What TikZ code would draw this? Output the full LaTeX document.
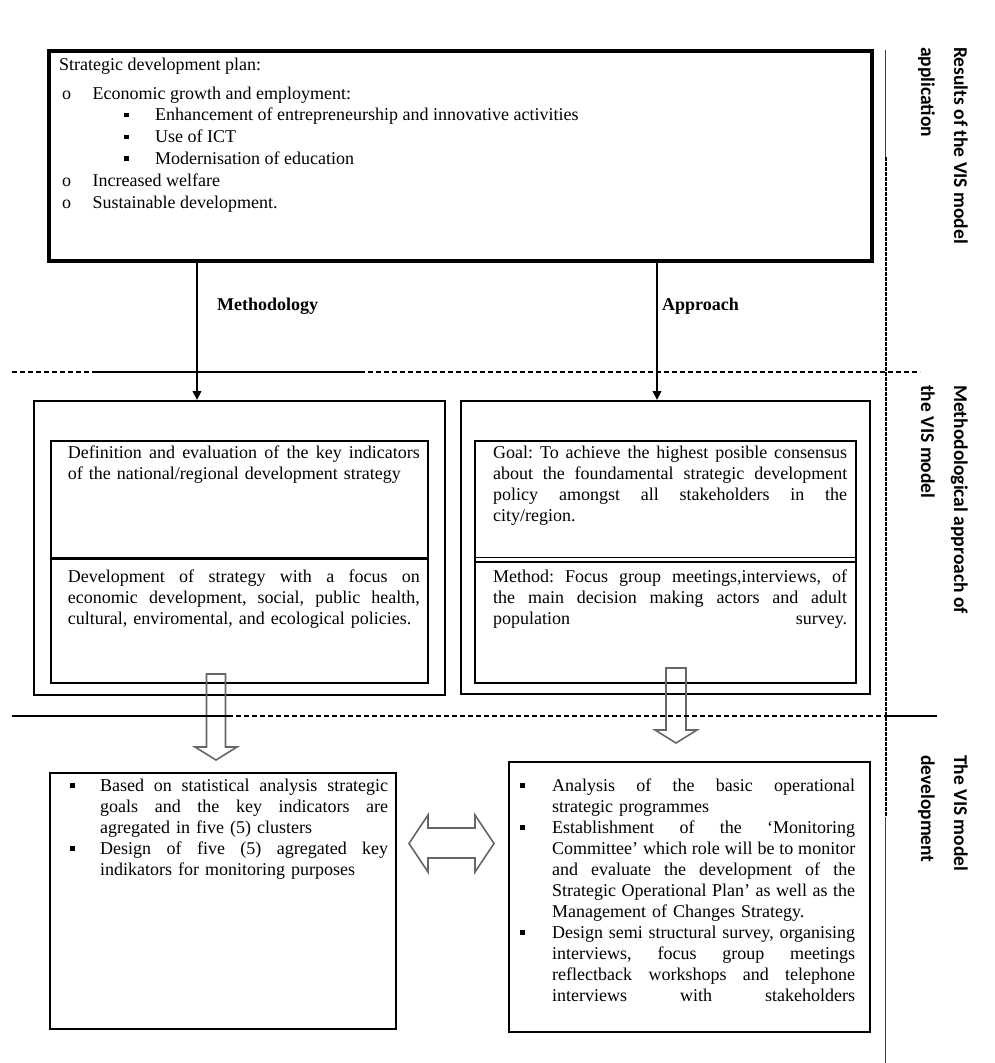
\documentclass[tikz,border=0pt]{standalone}
\usepackage{fontspec}
\setmainfont{Liberation Serif}
\newfontfamily\sidefont{Carlito}
\usetikzlibrary{arrows.meta}
% justified line: words separated by \hfill, box of given width
\def\jlA#1 #2\jlend{#1\ifx\relax#2\relax\else\hfill\jlA#2\jlend\fi}
\newcommand\jw[2]{\makebox[#1][s]{\jlA#2 \jlend}}
\newcommand\sqbul{\rule[3.5pt]{4.5pt}{4.5pt}}
\newcommand\tstrut{\rule{0pt}{14pt}}
\tikzset{
  bigbox/.style={draw, line width=3.5pt, anchor=north west, inner sep=0pt},
  frame/.style={draw, line width=2pt, anchor=north west, inner sep=0pt},
  txt/.style={anchor=north west, inner sep=0pt, font=\fontsize{18}{21}\selectfont, align=left},
  lab/.style={anchor=base west, inner sep=0pt, font=\fontsize{18}{21}\selectfont\bfseries},
  conn/.style={line width=2.4pt, -{Triangle[length=9pt,width=8.5pt]}},
  hollow/.style={draw=black!60, line width=1.6pt, line join=miter},
  sep/.style={line width=1.6pt},
  sepdash/.style={line width=1.6pt, dash pattern=on 5pt off 3pt},
  vsolid/.style={line width=1.8pt, draw=black!75},
  vdash/.style={line width=2pt, dash pattern=on 3.5pt off 1.5pt},
  side/.style={anchor=north west, inner sep=0pt, rotate=-90, align=left,
    font=\sidefont\bfseries\fontsize{19.5}{33}\selectfont},
}
\begin{document}
\begin{tikzpicture}[x=1pt,y=-1pt]
\useasboundingbox (0,0) rectangle (995,1063);

% ---- boxes
\node[bigbox, minimum width=823pt, minimum height=210pt] (plan) at (47,49) {};
\node[frame, minimum width=411pt, minimum height=294pt] (mlo) at (33,400) {};
\node[frame, minimum width=377pt, minimum height=242pt] (mli) at (50,440) {};
\node[frame, minimum width=409pt, minimum height=293pt] (mro) at (460,400) {};
\node[frame, minimum width=381pt, minimum height=242pt] (mri) at (474,440) {};
\node[frame, minimum width=346pt, minimum height=256pt] (blb) at (49,772) {};
\node[frame, minimum width=361pt, minimum height=270pt] (brb) at (508,761) {};

% dividers inside middle boxes
\coordinate (dl) at (50,558);
\draw[line width=3pt] (dl) -- (dl -| mli.east);
\coordinate (dr1) at (474,557.5);
\coordinate (dr2) at (474,562);
\draw[line width=1.5pt] (dr1) -- (dr1 -| mri.east);
\draw[line width=1.5pt] (dr2) -- (dr2 -| mri.east);

% ---- texts
\node[txt, font=\fontsize{18}{21.8}\selectfont] (plantxt) at (59,56) {%
\tstrut Strategic development plan:\\[7pt]
\makebox[33.5pt][l]{\,o}Economic growth and employment:\\
\hspace*{65pt}\makebox[31pt][l]{\sqbul}Enhancement of entrepreneurship and innovative activities\\
\hspace*{65pt}\makebox[31pt][l]{\sqbul}Use of ICT\\
\hspace*{65pt}\makebox[31pt][l]{\sqbul}Modernisation of education\\
\makebox[33.5pt][l]{\,o}Increased welfare\\
\makebox[33.5pt][l]{\,o}Sustainable development.};

\node[txt, text width=352pt] (mlt1) at (67.7,444) {%
\tstrut\jw{352pt}{Definition and evaluation of the key indicators}\\
of the national/regional development strategy};
\node[txt, text width=352pt] (mlt2) at (67.7,568) {%
\tstrut\jw{352pt}{Development of strategy with a focus on}\\
\jw{352pt}{economic development, social, public health,}\\
cultural, enviromental, and ecological policies.};

\node[txt, text width=354pt] (mrt1) at (493,444) {%
\tstrut\jw{354pt}{Goal: To achieve the highest posible consensus}\\
\jw{354pt}{about the foundamental strategic development}\\
\jw{354pt}{policy amongst all stakeholders in the}\\
city/region.};
\node[txt, text width=354pt] (mrt2) at (493,568) {%
\tstrut\jw{354pt}{Method: Focus group meetings,interviews, of}\\
\jw{354pt}{the main decision making actors and adult}\\
\jw{354pt}{population survey.}};

\node[txt, text width=318pt] (blt) at (70,777) {%
\tstrut\makebox[30pt][l]{\sqbul}\jw{288pt}{Based on statistical analysis strategic}\\
\hspace*{30pt}\jw{288pt}{goals and the key indicators are}\\
\hspace*{30pt}agregated in five (5) clusters\\
\makebox[30pt][l]{\sqbul}\jw{288pt}{Design of five (5) agregated key}\\
\hspace*{30pt}indikators for monitoring purposes};

\node[txt, text width=335pt] (brt) at (520,777) {%
\tstrut\makebox[32pt][l]{\sqbul}\jw{303pt}{Analysis of the basic operational}\\
\hspace*{32pt}strategic programmes\\
\makebox[32pt][l]{\sqbul}\jw{303pt}{Establishment of the `Monitoring}\\
\hspace*{32pt}\jw{303pt}{Committee' which role will be to monitor}\\
\hspace*{32pt}\jw{303pt}{and evaluate the development of the}\\
\hspace*{32pt}\jw{303pt}{Strategic Operational Plan' as well as the}\\
\hspace*{32pt}Management of Changes Strategy.\\
\makebox[32pt][l]{\sqbul}\jw{303pt}{Design semi structural survey, organising}\\
\hspace*{32pt}\jw{303pt}{interviews, focus group meetings}\\
\hspace*{32pt}\jw{303pt}{reflectback workshops and telephone}\\
\hspace*{32pt}\jw{303pt}{interviews with stakeholders}};

% ---- labels on connectors
\node[lab] (meth) at (217,310) {Methodology};
\node[lab] (appr) at (662,310) {Approach};

% ---- connectors
\coordinate (cx1) at (197,0);
\coordinate (cx2) at (657,0);
\draw[conn] (plan.south -| cx1) -- (mlo.north -| cx1);
\draw[conn] (plan.south -| cx2) -- (mro.north -| cx2);

% hollow arrows
\draw[hollow] (206.5,674) -- (225.5,674) -- (225.5,747) -- (237,747) -- (216,760)
  -- (195,747) -- (206.5,747) -- cycle;
\draw[hollow] (666,668) -- (686,668) -- (686,730) -- (697,730) -- (676,743)
  -- (655,730) -- (666,730) -- cycle;
\draw[hollow] (409,843.5) -- (428,815) -- (428,828) -- (475,828) -- (475,815)
  -- (494,843.5) -- (475,872) -- (475,858) -- (428,858) -- (428,872) -- cycle;

% ---- separating lines
\coordinate (h1a) at (12,372);
\coordinate (h1b) at (95,372);
\coordinate (h1c) at (360,372);
\coordinate (h1d) at (920,372);
\draw[sepdash] (h1a) -- (h1b);
\draw[sep] (h1b) -- (h1c);
\draw[sepdash] (h1c) -- (h1d);
\coordinate (h2a) at (12,716);
\coordinate (h2b) at (228,716);
\coordinate (h2c) at (885.5,716);
\coordinate (h2d) at (937,716);
\draw[sep] (h2a) -- (h2b);
\draw[sepdash] (h2b) -- (h2c);
\draw[sep] (h2c) -- (h2d);
\coordinate (v1) at (885.5,50);
\coordinate (v2) at (885.5,157);
\coordinate (v3) at (885.5,817);
\coordinate (v4) at (885.5,1063);
\draw[vsolid] (v1) -- (v2);
\draw[vdash] (v2) -- (v3);
\draw[vsolid] (v3) -- (v4);

% ---- side captions
\node[side] (s1) at (968,47) {Results of the VIS model\\application};
\node[side] (s2) at (968,385) {Methodological approach of\\the VIS model};
\node[side] (s3) at (968,755) {The VIS model\\development};
\end{tikzpicture}
\end{document}
